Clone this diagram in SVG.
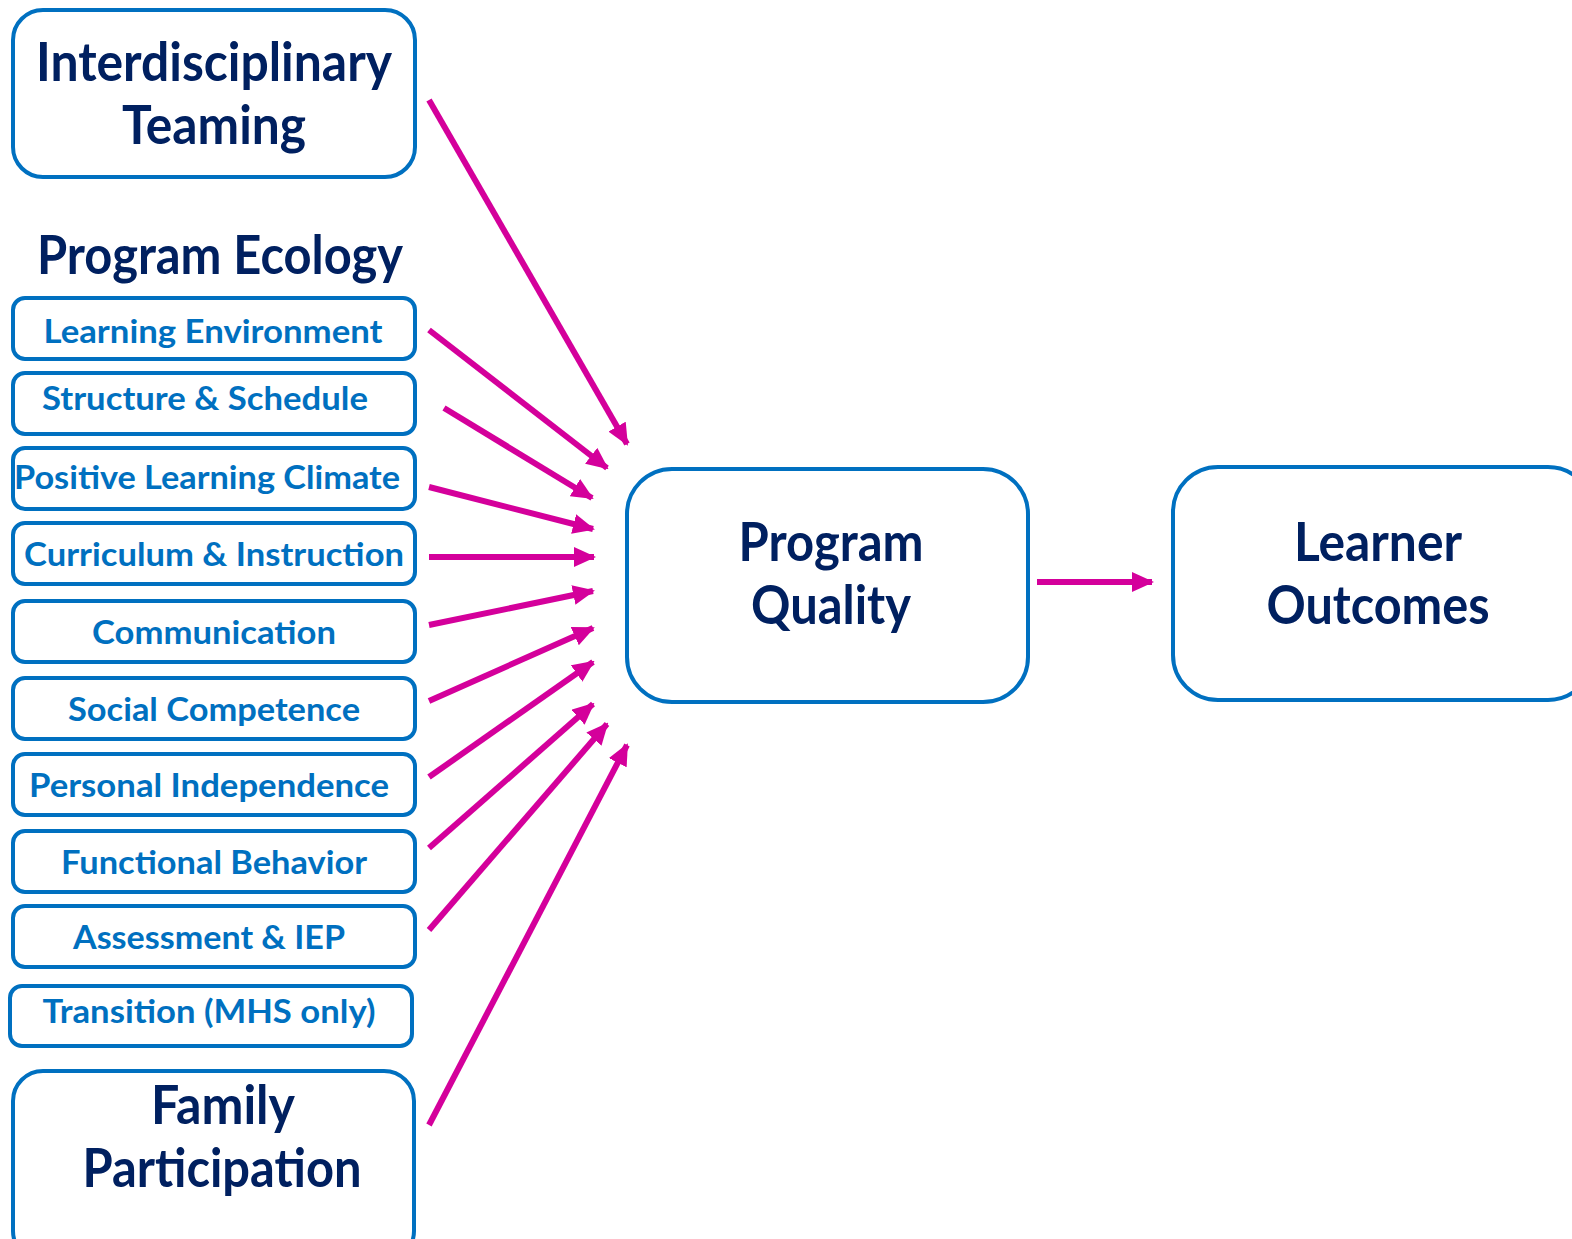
<svg xmlns="http://www.w3.org/2000/svg" width="1572" height="1239" viewBox="0 0 1572 1239">
<defs>
<style>
.box{fill:#fff;stroke:#0070C0;stroke-width:4}
.big{font-family:Lato,"Open Sans","Liberation Sans",sans-serif;font-weight:bold;font-size:54px;fill:#002060;text-anchor:middle}
.small{font-family:Lato,"Open Sans","Liberation Sans",sans-serif;font-weight:bold;font-size:32px;fill:#0070C0;text-anchor:middle}
.arr{stroke:#D4009B;stroke-width:6;fill:none;marker-end:url(#ah)}
</style>
<marker id="ah" markerUnits="userSpaceOnUse" markerWidth="22" markerHeight="20" refX="20" refY="10" orient="auto" viewBox="0 0 22 20">
<path d="M0,0 L22,10 L0,20 Z" fill="#D4009B"/>
</marker>
</defs>
<rect width="1572" height="1239" fill="#fff"/>
<g id="interdisciplinary-teaming">
<rect class="box" x="13" y="10" width="402" height="167" rx="30"/>
<text class="big" x="214" y="81" textLength="356" lengthAdjust="spacingAndGlyphs">Interdisciplinary</text>
<text class="big" x="214" y="144" textLength="184" lengthAdjust="spacingAndGlyphs">Teaming</text>
</g>
<g id="program-ecology-title">
<text class="big" x="220" y="274" textLength="366" lengthAdjust="spacingAndGlyphs">Program Ecology</text>
</g>
<g id="learning-environment">
<rect class="box" x="13" y="298" width="402" height="61" rx="12"/>
<text class="small" x="213" y="343" textLength="339" lengthAdjust="spacingAndGlyphs">Learning Environment</text>
</g>
<g id="structure-schedule">
<rect class="box" x="13" y="373" width="402" height="61" rx="12"/>
<text class="small" x="205" y="410" textLength="326" lengthAdjust="spacingAndGlyphs">Structure &amp; Schedule</text>
</g>
<g id="positive-learning-climate">
<rect class="box" x="13" y="448" width="402" height="61" rx="12"/>
<text class="small" x="207" y="489" textLength="386" lengthAdjust="spacingAndGlyphs">Positive Learning Climate</text>
</g>
<g id="curriculum-instruction">
<rect class="box" x="13" y="523" width="402" height="61" rx="12"/>
<text class="small" x="214" y="566" textLength="380" lengthAdjust="spacingAndGlyphs">Curriculum &amp; Instruction</text>
</g>
<g id="communication">
<rect class="box" x="13" y="601" width="402" height="61" rx="12"/>
<text class="small" x="214" y="644" textLength="244" lengthAdjust="spacingAndGlyphs">Communication</text>
</g>
<g id="social-competence">
<rect class="box" x="13" y="678" width="402" height="61" rx="12"/>
<text class="small" x="214" y="721" textLength="292" lengthAdjust="spacingAndGlyphs">Social Competence</text>
</g>
<g id="personal-independence">
<rect class="box" x="13" y="754" width="402" height="61" rx="12"/>
<text class="small" x="209" y="797" textLength="360" lengthAdjust="spacingAndGlyphs">Personal Independence</text>
</g>
<g id="functional-behavior">
<rect class="box" x="13" y="831" width="402" height="61" rx="12"/>
<text class="small" x="214" y="874" textLength="306" lengthAdjust="spacingAndGlyphs">Functional Behavior</text>
</g>
<g id="assessment-iep">
<rect class="box" x="13" y="906" width="402" height="61" rx="12"/>
<text class="small" x="209" y="949" textLength="272" lengthAdjust="spacingAndGlyphs">Assessment &amp; IEP</text>
</g>
<g id="transition">
<rect class="box" x="10" y="986" width="402" height="60" rx="12"/>
<text class="small" x="209" y="1023" textLength="333" lengthAdjust="spacingAndGlyphs">Transition (MHS only)</text>
</g>
<g id="family-participation">
<rect class="box" x="13" y="1071" width="401" height="190" rx="30"/>
<text class="big" x="223" y="1124" textLength="144" lengthAdjust="spacingAndGlyphs">Family</text>
<text class="big" x="222" y="1187" textLength="279" lengthAdjust="spacingAndGlyphs">Participation</text>
</g>
<g id="program-quality">
<rect class="box" x="627" y="469" width="401" height="233" rx="45"/>
<text class="big" x="831" y="561" textLength="185" lengthAdjust="spacingAndGlyphs">Program</text>
<text class="big" x="831" y="624" textLength="160" lengthAdjust="spacingAndGlyphs">Quality</text>
</g>
<g id="learner-outcomes">
<rect class="box" x="1173" y="467" width="420" height="233" rx="45"/>
<text class="big" x="1378" y="561" textLength="168" lengthAdjust="spacingAndGlyphs">Learner</text>
<text class="big" x="1378" y="624" textLength="223" lengthAdjust="spacingAndGlyphs">Outcomes</text>
</g>
<g id="connectors">
<line class="arr" x1="429" y1="100" x2="627" y2="444"/>
<line class="arr" x1="429" y1="330" x2="607" y2="468"/>
<line class="arr" x1="444" y1="408" x2="592" y2="498"/>
<line class="arr" x1="429" y1="487" x2="593" y2="529"/>
<line class="arr" x1="429" y1="557" x2="594" y2="557"/>
<line class="arr" x1="429" y1="625" x2="593" y2="591"/>
<line class="arr" x1="429" y1="701" x2="593" y2="628"/>
<line class="arr" x1="429" y1="777" x2="593" y2="662"/>
<line class="arr" x1="429" y1="848" x2="593" y2="704"/>
<line class="arr" x1="429" y1="930" x2="607" y2="724"/>
<line class="arr" x1="429" y1="1125" x2="627" y2="745"/>
<line class="arr" x1="1037" y1="582" x2="1152" y2="582"/>
</g>
</svg>
